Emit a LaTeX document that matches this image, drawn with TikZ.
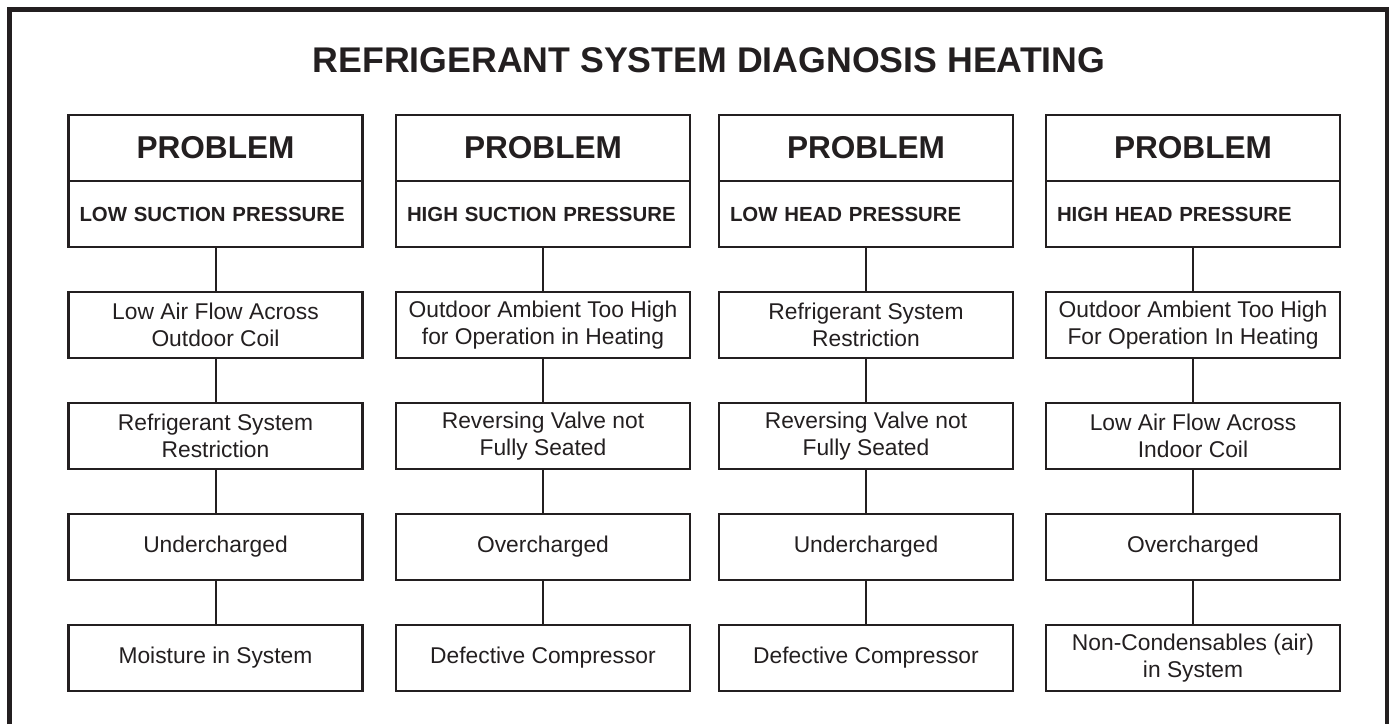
\documentclass[tikz,border=0pt]{standalone}
\usepackage{fontspec}
\setmainfont{Liberation Sans}
\usetikzlibrary{positioning}
\definecolor{inkblack}{RGB}{35,31,32}
\tikzset{
  headbox/.style={
    draw=inkblack,
    text=inkblack,
    line width=2.5pt,
    minimum width=294pt,
    minimum height=66pt,
    inner sep=0pt,
    outer sep=0pt,
    font=\fontsize{31.6}{36}\selectfont\bfseries
  },
  subbox/.style={
    headbox,
    text width=272pt,
    inner xsep=11pt,
    align=left,
    font=\fontsize{20.4}{24}\selectfont\bfseries
  },
  causebox/.style={
    headbox,
    align=center,
    font=\fontsize{22.8}{27}\selectfont
  },
  link/.style={draw=inkblack, line width=2pt},
  frameline/.style={draw=inkblack, line width=4.5pt},
  titletext/.style={text=inkblack, inner sep=0pt, font=\fontsize{35.7}{40}\selectfont\bfseries},
}

\begin{document}
\begin{tikzpicture}[x=1pt, y=-1pt, node distance=45pt]

\useasboundingbox (0,0) rectangle (1393,724);

% Frame and title
\draw[frameline] (9.5,724) |- (1387,9.5) -- (1387,724);
\node[titletext, anchor=base] (title) at (709,72) {REFRIGERANT SYSTEM DIAGNOSIS HEATING};

% Low suction pressure
\node[headbox] (lsprob) at (215.5,148) {PROBLEM};
\node[subbox, below=0pt of lsprob] (lssub) {LOW SUCTION PRESSURE};
\node[causebox, below=of lssub] (lsair) {Low Air Flow Across\\Outdoor Coil};
\node[causebox, below=of lsair] (lsrestr) {Refrigerant System\\Restriction};
\node[causebox, below=of lsrestr] (lsunder) {Undercharged};
\node[causebox, below=of lsunder] (lsmoist) {Moisture in System};

\draw[link] (lssub) -- (lsair);
\draw[link] (lsair) -- (lsrestr);
\draw[link] (lsrestr) -- (lsunder);
\draw[link] (lsunder) -- (lsmoist);

% High suction pressure
\node[headbox] (hsprob) at (543,148) {PROBLEM};
\node[subbox, below=0pt of hsprob] (hssub) {HIGH SUCTION PRESSURE};
\node[causebox, below=of hssub] (hsambient) {Outdoor Ambient Too High\\for Operation in Heating};
\node[causebox, below=of hsambient] (hsvalve) {Reversing Valve not\\Fully Seated};
\node[causebox, below=of hsvalve] (hsover) {Overcharged};
\node[causebox, below=of hsover] (hscomp) {Defective Compressor};

\draw[link] (hssub) -- (hsambient);
\draw[link] (hsambient) -- (hsvalve);
\draw[link] (hsvalve) -- (hsover);
\draw[link] (hsover) -- (hscomp);

% Low head pressure
\node[headbox] (lhprob) at (866,148) {PROBLEM};
\node[subbox, below=0pt of lhprob] (lhsub) {LOW HEAD PRESSURE};
\node[causebox, below=of lhsub] (lhrestr) {Refrigerant System\\Restriction};
\node[causebox, below=of lhrestr] (lhvalve) {Reversing Valve not\\Fully Seated};
\node[causebox, below=of lhvalve] (lhunder) {Undercharged};
\node[causebox, below=of lhunder] (lhcomp) {Defective Compressor};

\draw[link] (lhsub) -- (lhrestr);
\draw[link] (lhrestr) -- (lhvalve);
\draw[link] (lhvalve) -- (lhunder);
\draw[link] (lhunder) -- (lhcomp);

% High head pressure
\node[headbox] (hhprob) at (1193,148) {PROBLEM};
\node[subbox, below=0pt of hhprob] (hhsub) {HIGH HEAD PRESSURE};
\node[causebox, below=of hhsub] (hhambient) {Outdoor Ambient Too High\\For Operation In Heating};
\node[causebox, below=of hhambient] (hhair) {Low Air Flow Across\\Indoor Coil};
\node[causebox, below=of hhair] (hhover) {Overcharged};
\node[causebox, below=of hhover] (hhnoncond) {Non-Condensables (air)\\in System};

\draw[link] (hhsub) -- (hhambient);
\draw[link] (hhambient) -- (hhair);
\draw[link] (hhair) -- (hhover);
\draw[link] (hhover) -- (hhnoncond);

\end{tikzpicture}
\end{document}
